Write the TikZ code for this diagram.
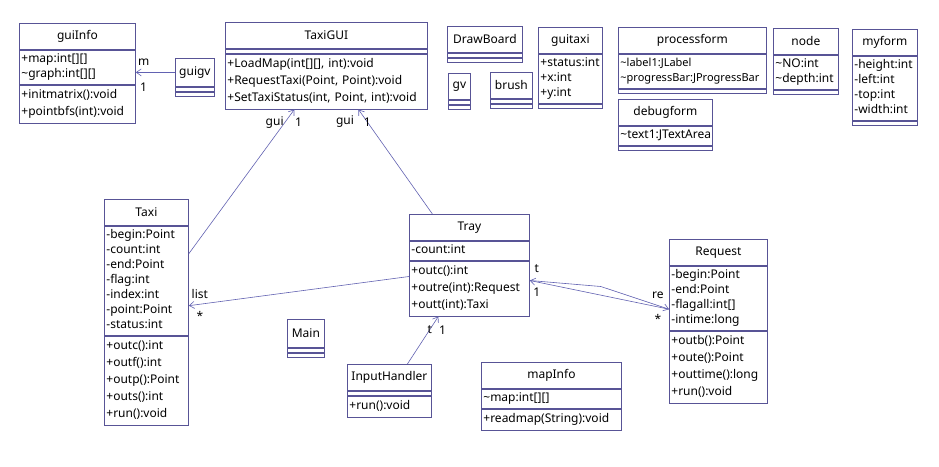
\documentclass[tikz,border=0pt]{standalone}
\usepackage{fontspec}
\setmainfont{Noto Sans}
\usepackage{xcolor}
\usepackage{tikz}
\usetikzlibrary{positioning,arrows.meta}
\definecolor{classcolor}{RGB}{88, 84, 150}
\definecolor{linkcolor}{RGB}{98, 98, 178}
\tikzset{
    class title/.style={rectangle, draw=classcolor, line width=0.8pt, anchor=north west, inner sep=0pt, minimum height=26pt, font=\fontsize{12}{15}\selectfont},
    class part/.style={rectangle, draw=classcolor, line width=0.8pt, align=left, inner xsep=2pt, inner ysep=2pt, execute at begin node=\strut, execute at end node=\strut},
    attr part/.style={class part, font=\fontsize{12}{15}\selectfont},
    oper part/.style={class part, font=\fontsize{12}{17}\selectfont},
    empty part/.style={rectangle, draw=classcolor, line width=0.8pt, inner sep=0pt, minimum height=4pt},
    assoc/.style={-{Straight Barb[length=5pt,width=7pt]}, linkcolor, line width=0.6pt},
    role/.style={font=\fontsize{12}{13}\selectfont, text=black, inner sep=1pt}
}

\begin{document}
\begin{tikzpicture}[x=1pt, y=-1pt]
    \useasboundingbox (0,0) rectangle (939,466);
    \fill[white] (0,0) rectangle (939,466);

    % guiInfo
    \node[class title, minimum width=116pt] (guiinfo) at (19,23) {guiInfo};
    \node[attr part, text width=112pt, below=0pt of guiinfo] (guiinfoattr) {+map:int[][]\\\textasciitilde graph:int[][]};
    \node[oper part, text width=112pt, below=0pt of guiinfoattr] (guiinfoops) {+initmatrix():void\\+pointbfs(int):void};

    % guigv
    \node[class title, minimum width=39pt, minimum height=28pt] (guigv) at (175,58) {guigv};
    \node[empty part, minimum width=39pt, below=0pt of guigv] (guigvattr) {};
    \node[empty part, minimum width=39pt, below=0pt of guigvattr] (guigvops) {};

    % TaxiGUI
    \node[class title, minimum width=202pt] (taxigui) at (225,22) {TaxiGUI};
    \node[empty part, minimum width=202pt, below=0pt of taxigui] (taxiguiattr) {};
    \node[oper part, text width=198pt, below=0pt of taxiguiattr] (taxiguiops) {+LoadMap(int[][], int):void\\+RequestTaxi(Point, Point):void\\+SetTaxiStatus(int, Point, int):void};

    % DrawBoard, gv, brush
    \node[class title, minimum width=75pt] (drawboard) at (447,26) {DrawBoard};
    \node[empty part, minimum width=75pt, below=0pt of drawboard] (drawboardattr) {};
    \node[empty part, minimum width=75pt, below=0pt of drawboardattr] (drawboardops) {};
    \node[class title, minimum width=22pt] (gv) at (448,73) {gv};
    \node[empty part, minimum width=22pt, below=0pt of gv] (gvattr) {};
    \node[empty part, minimum width=22pt, below=0pt of gvattr] (gvops) {};
    \node[class title, minimum width=42pt] (brush) at (490,72) {brush};
    \node[empty part, minimum width=42pt, below=0pt of brush] (brushattr) {};
    \node[empty part, minimum width=42pt, below=0pt of brushattr] (brushops) {};

    % guitaxi
    \node[class title, minimum width=64pt] (guitaxi) at (538,27) {guitaxi};
    \node[attr part, text width=60pt, below=0pt of guitaxi] (guitaxiattr) {+status:int\\+x:int\\+y:int};
    \node[empty part, minimum width=64pt, below=0pt of guitaxiattr] (guitaxiops) {};

    % processform and debugform
    \node[class title, minimum width=148pt] (processform) at (618,27) {processform};
    \node[attr part, text width=144pt, font=\fontsize{11}{15}\selectfont, below=0pt of processform] (processformattr) {\textasciitilde label1:JLabel\\\textasciitilde progressBar:JProgressBar};
    \node[empty part, minimum width=148pt, below=0pt of processformattr] (processformops) {};
    \node[class title, minimum width=94pt] (debugform) at (618,99) {debugform};
    \node[attr part, text width=90pt, below=0pt of debugform] (debugformattr) {\textasciitilde text1:JTextArea};
    \node[empty part, minimum width=94pt, below=0pt of debugformattr] (debugformops) {};

    % node
    \node[class title, minimum width=65pt] (nodecls) at (773,28) {node};
    \node[attr part, text width=61pt, below=0pt of nodecls] (nodeclsattr) {\textasciitilde NO:int\\\textasciitilde depth:int};
    \node[empty part, minimum width=65pt, below=0pt of nodeclsattr] (nodeclsops) {};

    % myform
    \node[class title, minimum width=65pt] (myform) at (852,29) {myform};
    \node[attr part, text width=61pt, below=0pt of myform] (myformattr) {-height:int\\-left:int\\-top:int\\-width:int};
    \node[empty part, minimum width=65pt, below=0pt of myformattr] (myformops) {};

    % Taxi
    \node[class title, minimum width=84pt] (taxi) at (104,199) {Taxi};
    \node[attr part, text width=80pt, below=0pt of taxi] (taxiattr) {-begin:Point\\-count:int\\-end:Point\\-flag:int\\-index:int\\-point:Point\\-status:int};
    \node[oper part, text width=80pt, below=0pt of taxiattr] (taxiops) {+outc():int\\+outf():int\\+outp():Point\\+outs():int\\+run():void};

    % Tray
    \node[class title, minimum width=120pt] (tray) at (409,214) {Tray};
    \node[attr part, text width=116pt, below=0pt of tray] (trayattr) {-count:int};
    \node[oper part, text width=116pt, below=0pt of trayattr] (trayops) {+outc():int\\+outre(int):Request\\+outt(int):Taxi};

    % Request
    \node[class title, minimum width=98pt] (request) at (669,239) {Request};
    \node[attr part, text width=94pt, below=0pt of request] (requestattr) {-begin:Point\\-end:Point\\-flagall:int[]\\-intime:long};
    \node[oper part, text width=94pt, below=0pt of requestattr] (requestops) {+outb():Point\\+oute():Point\\+outtime():long\\+run():void};

    % Main
    \node[class title, minimum width=37pt, minimum height=28pt] (main) at (287,319) {Main};
    \node[empty part, minimum width=37pt, below=0pt of main] (mainattr) {};
    \node[empty part, minimum width=37pt, below=0pt of mainattr] (mainops) {};

    % InputHandler
    \node[class title, minimum width=84pt] (inputhandler) at (347,364) {InputHandler};
    \node[empty part, minimum width=84pt, below=0pt of inputhandler] (inputhandlerattr) {};
    \node[oper part, text width=80pt, below=0pt of inputhandlerattr] (inputhandlerops) {+run():void};

    % mapInfo
    \node[class title, minimum width=140pt] (mapinfo) at (481,362) {mapInfo};
    \node[attr part, text width=136pt, below=0pt of mapinfo] (mapinfoattr) {\textasciitilde map:int[][]};
    \node[oper part, text width=136pt, below=0pt of mapinfoattr] (mapinfoops) {+readmap(String):void};

    % Associations
    \draw[assoc] (guigv.west) -- (guigv.west -| guiinfo.east)
        node[role, pos=0.8, above=6pt] {m}
        node[role, pos=0.8, below=9pt] {1};
    \draw[assoc] ([yshift=27pt]taxiattr.east) -- ([xshift=-32pt]taxiguiops.south)
        node[role, pos=0.91, left] {gui}
        node[role, pos=0.91, right=9pt] {1};
    \draw[assoc] ([xshift=-37pt]tray.north) -- ([xshift=32pt]taxiguiops.south)
        node[role, pos=0.88, left=12pt] {gui}
        node[role, pos=0.88] {1};
    \draw[assoc] ([yshift=12pt]trayops.west) -- ([yshift=-25pt]taxiattr.east)
        node[role, pos=0.95, above=4pt] {list}
        node[role, pos=0.95, below=6pt] {*};
    \draw[assoc] ([xshift=18pt]inputhandler.north) -- ([xshift=-31pt]trayops.south)
        node[role, pos=0.72] {t}
        node[role, pos=0.72, right=8pt] {1};

    % Tray and Request
    \coordinate (trayright) at ([yshift=8pt]trayops.east);
    \coordinate (requestleft) at ([yshift=-11pt]requestattr.west);
    \draw[assoc] (requestleft) -- (trayright)
        node[role, pos=0.95, above=8pt] {t}
        node[role, pos=0.95, below=5pt] {1}
        node[role, pos=0.08, above=7pt] {re}
        node[role, pos=0.08, below=6pt] {*};
    \draw[assoc] (trayright) -- ++(71,6) -- (requestleft);
\end{tikzpicture}
\end{document}
